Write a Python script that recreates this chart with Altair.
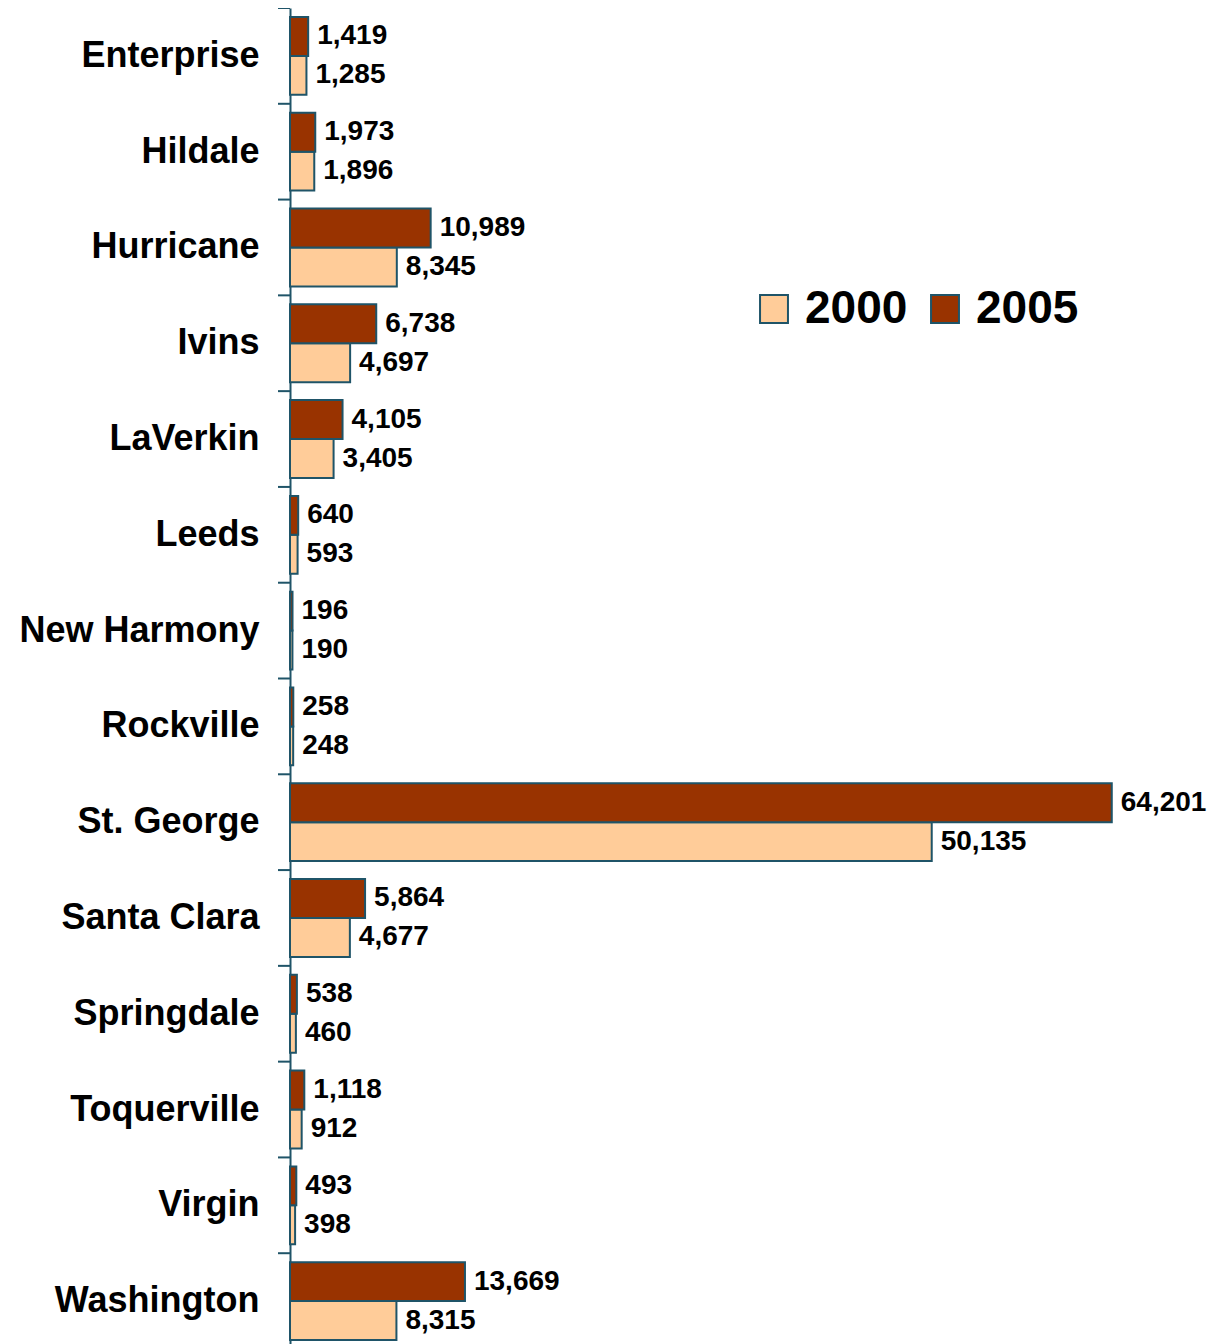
import altair as alt
import pandas as pd

cities = ["Enterprise", "Hildale", "Hurricane", "Ivins", "LaVerkin", "Leeds",
          "New Harmony", "Rockville", "St. George", "Santa Clara", "Springdale",
          "Toquerville", "Virgin", "Washington"]
pop2000 = [1285, 1896, 8345, 4697, 3405, 593, 190, 248, 50135, 4677, 460, 912, 398, 8315]
pop2005 = [1419, 1973, 10989, 6738, 4105, 640, 196, 258, 64201, 5864, 538, 1118, 493, 13669]
years = ["2000", "2005"]
colors = ["#FFCC99", "#993300"]

rows = []
for c, a, b in zip(cities, pop2000, pop2005):
    rows.append({"city": c, "year": "2000", "pop": a})
    rows.append({"city": c, "year": "2005", "pop": b})
df = pd.DataFrame(rows)
ticks_df = pd.DataFrame({"city": cities})

TEAL = "#1F5468"
FONT = "Liberation Sans"

y_enc = alt.Y("city:N", sort=cities, title=None,
              scale=alt.Scale(paddingInner=0, paddingOuter=0),
              axis=alt.Axis(ticks=False, domainColor=TEAL, domainWidth=2,
                            labelFont=FONT, labelFontWeight="bold", labelFontSize=36,
                            labelColor="black", labelPadding=31, labelLimit=400))
yoff = alt.YOffset("year:N", sort=["2005", "2000"],
                   scale=alt.Scale(paddingInner=0, paddingOuter=0.23))

bars = alt.Chart(df).mark_bar(stroke=TEAL, strokeWidth=2).encode(
    x=alt.X("pop:Q", stack=None, title=None,
            scale=alt.Scale(domain=[0, 70000], nice=False),
            axis=None),
    y=y_enc,
    yOffset=yoff,
    color=alt.Color("year:N", sort=years,
                    scale=alt.Scale(domain=years, range=colors),
                    legend=alt.Legend(orient="none", legendX=461, legendY=278,
                                      direction="horizontal", title=None,
                                      symbolType="square", symbolSize=780,
                                      symbolStrokeColor=TEAL, symbolStrokeWidth=2,
                                      labelFont=FONT, labelFontWeight="bold",
                                      labelFontSize=46, labelColor="black",
                                      labelOffset=8, columnPadding=14)),
)

labels = alt.Chart(df).mark_text(align="left", baseline="middle", dx=9,
                                 font=FONT, fontWeight="bold", fontSize=28,
                                 color="black").encode(
    x=alt.X("pop:Q", stack=None),
    y=alt.Y("city:N", sort=cities),
    yOffset=alt.YOffset("year:N", sort=["2005", "2000"]),
    text=alt.Text("pop:Q", format=","),
)

tickmarks = alt.Chart(ticks_df).mark_rule(color=TEAL, strokeWidth=2).encode(
    y=alt.Y("city:N", sort=cities, bandPosition=0),
    x=alt.value(-12),
    x2=alt.value(0),
)

chart = alt.layer(bars, labels, tickmarks).properties(
    width=896, height=1341,
    autosize=alt.AutoSizeParams(type="none"),
    padding={"left": 282, "top": 0, "right": 32, "bottom": 0},
).configure_view(stroke=None)

chart.save("out.html", embed_options={"renderer": "svg", "actions": False})
